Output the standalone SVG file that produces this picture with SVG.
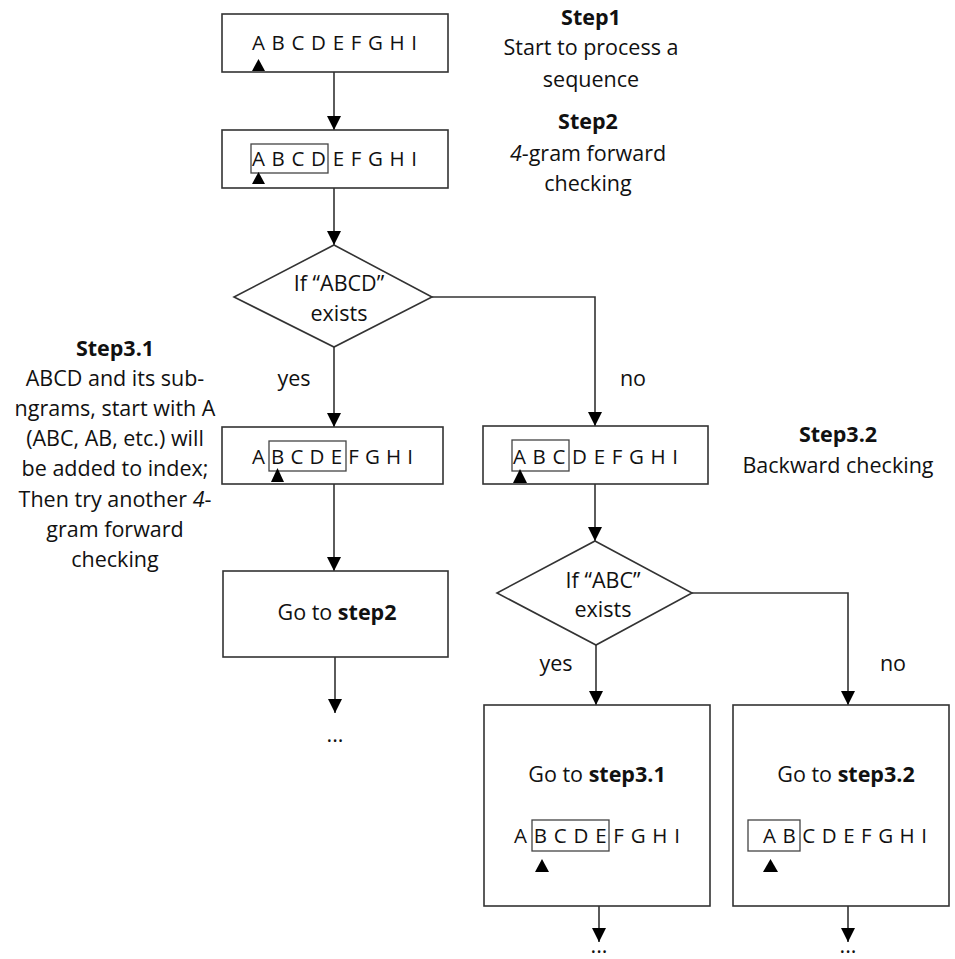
<svg xmlns="http://www.w3.org/2000/svg" width="955" height="959" viewBox="0 0 955 959">
<defs>
<style>
text{font-family:"Open Sans","Liberation Sans",sans-serif;fill:#111;}
.t{font-size:21.5px;text-anchor:middle;}
.b{font-weight:bold;}
.seq{font-size:20.5px;}
.box{fill:#fff;stroke:#333;stroke-width:1.6;}
.in{fill:none;stroke:#444;stroke-width:1.3;}
.ln{fill:none;stroke:#333;stroke-width:1.6;}
.tri{fill:#000;}
</style>
<marker id="ah" markerUnits="userSpaceOnUse" markerWidth="14" markerHeight="14" viewBox="0 0 14 14" refX="14" refY="7" orient="auto">
<path d="M0,0 L14,7 L0,14 Z" fill="#000"/>
</marker>
</defs>
<rect width="955" height="959" fill="#fff"/>

<g id="connectors">
<line class="ln" x1="334" y1="72" x2="334" y2="130" marker-end="url(#ah)"/>
<line class="ln" x1="334" y1="188" x2="334" y2="245" marker-end="url(#ah)"/>
<line class="ln" x1="334" y1="347" x2="334" y2="427" marker-end="url(#ah)"/>
<polyline class="ln" points="432,297 595,297 595,426" marker-end="url(#ah)"/>
<line class="ln" x1="334" y1="484" x2="334" y2="571" marker-end="url(#ah)"/>
<line class="ln" x1="335" y1="657" x2="335" y2="713" marker-end="url(#ah)"/>
<line class="ln" x1="595" y1="484" x2="595" y2="541" marker-end="url(#ah)"/>
<line class="ln" x1="596" y1="645" x2="596" y2="705" marker-end="url(#ah)"/>
<polyline class="ln" points="692,593 848,593 848,705" marker-end="url(#ah)"/>
<line class="ln" x1="599" y1="906" x2="599" y2="942" marker-end="url(#ah)"/>
<line class="ln" x1="848" y1="906" x2="848" y2="942" marker-end="url(#ah)"/>
<text class="t" x="294" y="386">yes</text>
<text class="t" x="633" y="386">no</text>
<text class="t" x="556" y="671">yes</text>
<text class="t" x="893" y="671">no</text>
<text class="t" x="335" y="742">...</text>
<text class="t" x="599" y="953">...</text>
<text class="t" x="848" y="953">...</text>
</g>

<g id="step1-box">
<rect class="box" x="222" y="14" width="226" height="58"/>
<text class="seq" x="252" y="50" textLength="165" lengthAdjust="spacing">A B C D E F G H I</text>
<path class="tri" d="M252,71 L258.5,59 L265,71 Z"/>
</g>

<g id="step1-label">
<text class="t b" x="591" y="25">Step1</text>
<text class="t" x="591" y="55">Start to process a</text>
<text class="t" x="591" y="87">sequence</text>
</g>

<g id="step2-box">
<rect class="box" x="222" y="130" width="226" height="58"/>
<rect class="in" x="251" y="144" width="77" height="29"/>
<text class="seq" x="252" y="166" textLength="165" lengthAdjust="spacing">A B C D E F G H I</text>
<path class="tri" d="M252,184 L258.5,172 L265,184 Z"/>
</g>

<g id="step2-label">
<text class="t b" x="588" y="129">Step2</text>
<text class="t" x="588" y="161"><tspan font-style="italic">4</tspan>-gram forward</text>
<text class="t" x="588" y="191">checking</text>
</g>

<g id="decision1">
<polygon class="box" points="334,245 432,297 334,347 234,297"/>
<text class="t" x="339" y="291">If “ABCD”</text>
<text class="t" x="339" y="321">exists</text>
</g>

<g id="step31-label">
<text class="t b" x="115" y="356">Step3.1</text>
<text class="t" x="115" y="386">ABCD and its sub-</text>
<text class="t" x="115" y="416">ngrams, start with A</text>
<text class="t" x="115" y="446">(ABC, AB, etc.) will</text>
<text class="t" x="115" y="476">be added to index;</text>
<text class="t" x="115" y="507">Then try another <tspan font-style="italic">4</tspan>-</text>
<text class="t" x="115" y="537">gram forward</text>
<text class="t" x="115" y="567">checking</text>
</g>

<g id="yes-box">
<rect class="box" x="222" y="427" width="221" height="57"/>
<rect class="in" x="269" y="441" width="77" height="30"/>
<text class="seq" x="252" y="464" textLength="161" lengthAdjust="spacing">A B C D E F G H I</text>
<path class="tri" d="M271,482 L277.5,468 L284,482 Z"/>
</g>

<g id="no-box">
<rect class="box" x="483" y="426" width="225" height="58"/>
<rect class="in" x="512" y="440" width="57" height="31"/>
<text class="seq" x="513" y="464" textLength="165" lengthAdjust="spacing">A B C D E F G H I</text>
<path class="tri" d="M513,483 L520,469 L527,483 Z"/>
</g>

<g id="step32-label">
<text class="t b" x="838" y="442">Step3.2</text>
<text class="t" x="838" y="473">Backward checking</text>
</g>

<g id="goto-step2">
<rect class="box" x="223" y="571" width="225" height="86"/>
<text class="t" x="337" y="620">Go to <tspan class="b">step2</tspan></text>
</g>

<g id="decision2">
<polygon class="box" points="595,541 692,593 596,645 497,593"/>
<text class="t" x="603" y="588">If “ABC”</text>
<text class="t" x="603" y="617">exists</text>
</g>

<g id="goto-step31">
<rect class="box" x="484" y="705" width="226" height="201"/>
<text class="t" x="597" y="782">Go to <tspan class="b">step3.1</tspan></text>
<rect class="in" x="532" y="820" width="77" height="31"/>
<text class="seq" x="514" y="843" textLength="166" lengthAdjust="spacing">A B C D E F G H I</text>
<path class="tri" d="M535,872 L542,859 L549,872 Z"/>
</g>

<g id="goto-step32">
<rect class="box" x="733" y="705" width="216" height="201"/>
<text class="t" x="846" y="782">Go to <tspan class="b">step3.2</tspan></text>
<rect class="in" x="748" y="820" width="52" height="31"/>
<text class="seq" x="763" y="843" textLength="164" lengthAdjust="spacing">A B C D E F G H I</text>
<path class="tri" d="M763,872 L770.5,859 L778,872 Z"/>
</g>
</svg>
